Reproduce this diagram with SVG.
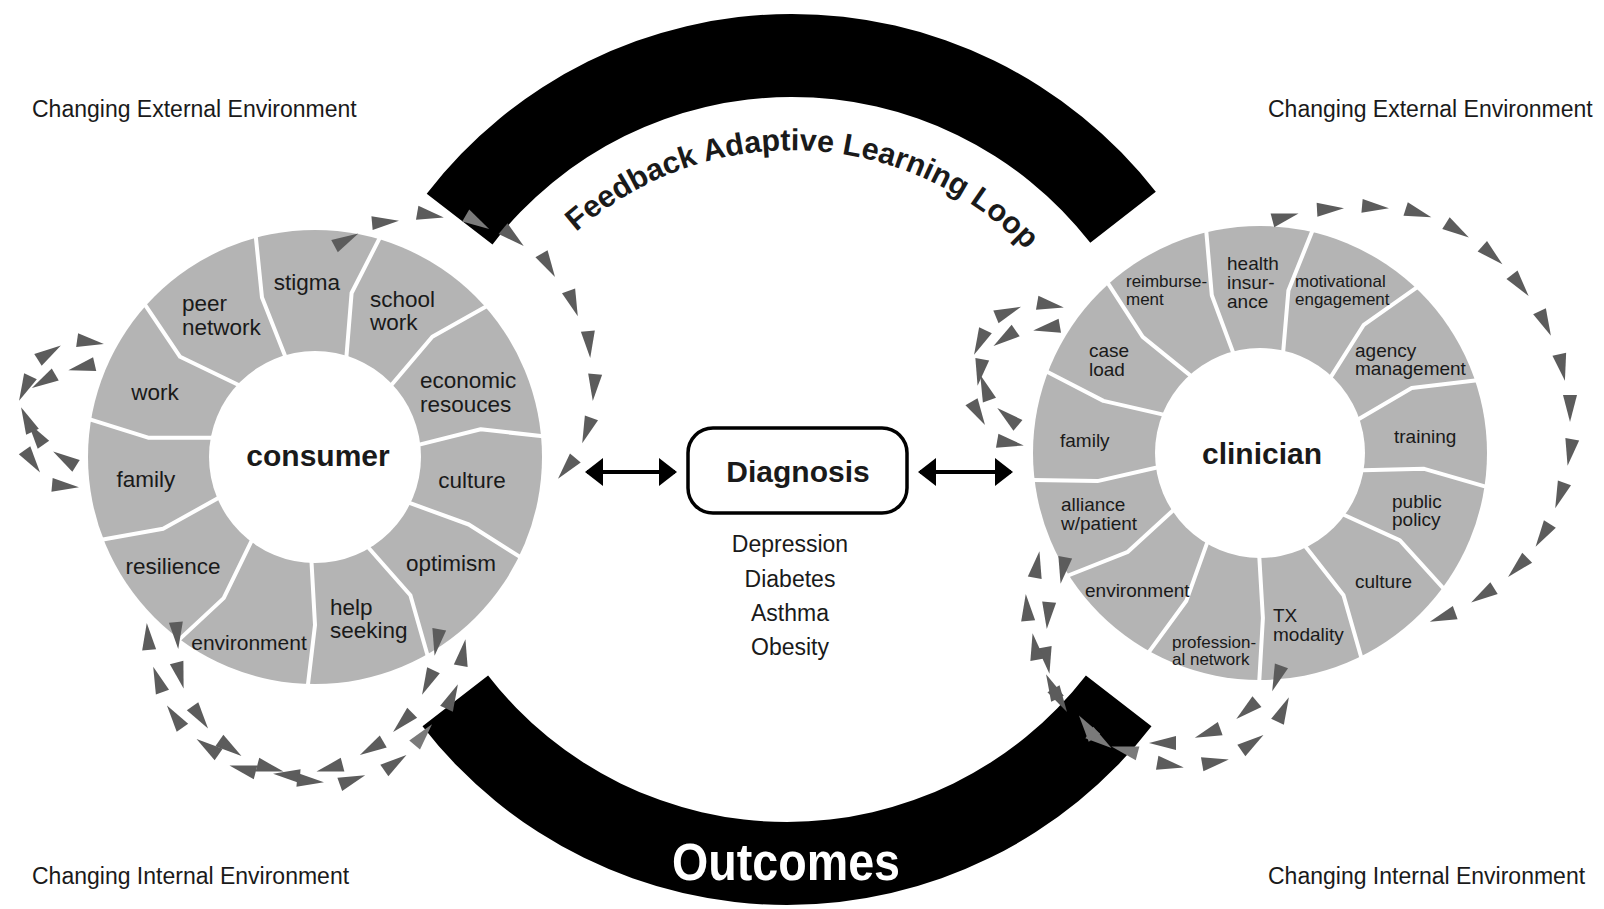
<svg xmlns="http://www.w3.org/2000/svg" xmlns:xlink="http://www.w3.org/1999/xlink" width="1604" height="909" viewBox="0 0 1604 909">
<defs>
<style>
text{font-family:"Liberation Sans",Arial,sans-serif;fill:#1a1a1a}
.ring{fill:#b4b4b4}
.hole{fill:#fff}
.dv{fill:none;stroke:#fff;stroke-width:4;stroke-linejoin:round;stroke-linecap:round}
.c{font-size:22.5px}
.k{font-size:19px}
.ks{font-size:17px}
.title{font-size:30px;font-weight:bold;text-anchor:middle}
.env{font-size:23px}
.mid{text-anchor:middle}
.band{fill:#000}
.tri{fill:#5c5c5c}
.dbl{stroke:#000;stroke-width:4;fill:none}
</style>
<path id="t" d="M14,0 L-13,-7 L-13,7 Z"/>
<marker id="ah" viewBox="0 0 18 28" markerUnits="userSpaceOnUse" markerWidth="18" markerHeight="28" refX="16" refY="14" orient="auto-start-reverse">
<path d="M0,0 L18,14 L0,28 Z" fill="#000"/>
</marker>
<path id="fbpath" d="M 551.5,256.5 A 325 325 0 0 1 1049,276.5" fill="none"/>
</defs>
<rect width="1604" height="909" fill="#fff"/>

<g id="env-labels">
<text class="env" x="32" y="117">Changing External Environment</text>
<text class="env" x="1268" y="117">Changing External Environment</text>
<text class="env" x="32" y="884">Changing Internal Environment</text>
<text class="env" x="1268" y="884">Changing Internal Environment</text>
</g>

<g id="feedback-loop">
<path class="band" d="M 426.7,193.7 A 461 461 0 0 1 1155.8,191.8 L 1090.3,242.8 A 378 378 0 0 0 492.5,244.4 Z"/>
<text style="font-size:30.5px;font-weight:bold"><textPath href="#fbpath" startOffset="50%" text-anchor="middle">Feedback Adaptive Learning Loop</textPath></text>
</g>

<g id="outcomes">
<path class="band" d="M 422.5,726.2 A 461 461 0 0 0 1151.5,726.2 L 1085.9,675.4 A 378 378 0 0 1 488.1,675.4 Z"/>
<text x="786" y="880" text-anchor="middle" style="font-size:51px;font-weight:bold;fill:#fff" textLength="228" lengthAdjust="spacingAndGlyphs">Outcomes</text>
</g>

<g id="consumer">
<circle class="ring" cx="315" cy="457" r="227"/>
<circle class="hole" cx="315" cy="457" r="106"/>
<polyline class="dv" points="255.7,235.8 262.0,297.6 285.2,356.3"/>
<polyline class="dv" points="380.0,237.4 351.6,293.0 346.4,356.8"/>
<polyline class="dv" points="487.0,305.9 432.3,336.8 391.4,385.0"/>
<polyline class="dv" points="543.1,436.3 480.7,429.3 419.3,444.6"/>
<polyline class="dv" points="520.8,557.4 468.8,524.5 409.5,502.9"/>
<polyline class="dv" points="427.8,656.3 410.4,595.3 368.3,547.5"/>
<polyline class="dv" points="307.8,685.9 315,625 311.5,561.9"/>
<polyline class="dv" points="178.1,640.6 223.7,598.1 251.7,540.7"/>
<polyline class="dv" points="101.5,539.8 163.1,528.8 218.3,498.0"/>
<polyline class="dv" points="89.1,419.2 148.1,437.7 211.8,437.7"/>
<polyline class="dv" points="144.6,304.1 180.1,356.8 238.6,385.0"/>
<text class="c" x="182" y="311">peer</text>
<text class="c" x="182" y="335">network</text>
<text class="c mid" x="307" y="290">stigma</text>
<text class="c" x="370" y="307">school</text>
<text class="c" x="370" y="330">work</text>
<text class="c" x="420" y="388">economic</text>
<text class="c" x="420" y="412">resouces</text>
<text class="c mid" x="155" y="400">work</text>
<text class="c mid" x="472" y="488">culture</text>
<text class="c mid" x="146" y="487">family</text>
<text class="c mid" x="451" y="571">optimism</text>
<text class="c mid" x="173" y="574">resilience</text>
<text class="c" x="330" y="615">help</text>
<text class="c" x="330" y="638">seeking</text>
<text class="mid" x="249" y="650" style="font-size:21px">environment</text>
<text class="title" x="318" y="466">consumer</text>
</g>

<g id="clinician">
<circle class="ring" cx="1260" cy="453" r="227"/>
<circle class="hole" cx="1260" cy="453" r="105"/>
<polyline class="dv" points="1107.4,282.3 1142.7,336.9 1190.5,375.6"/>
<polyline class="dv" points="1206.2,230.4 1211.8,295.2 1233.1,352.5"/>
<polyline class="dv" points="1312.7,230.1 1288.4,290.5 1283.2,351.6"/>
<polyline class="dv" points="1417.6,286.9 1363.8,324.8 1330.9,376.9"/>
<polyline class="dv" points="1477.2,380.3 1411.7,388.0 1358.4,419.3"/>
<polyline class="dv" points="1486.5,486.8 1424.2,468.8 1362.6,470.2"/>
<polyline class="dv" points="1444.1,589.2 1399.9,540.4 1343.7,514.7"/>
<polyline class="dv" points="1361.5,658.3 1343.5,595.3 1305.4,546.6"/>
<polyline class="dv" points="1259.2,682 1262.9,618 1259.3,557"/>
<polyline class="dv" points="1148.3,652.9 1186.4,600.7 1207.2,542.6"/>
<polyline class="dv" points="1066.9,576.0 1127.9,551.8 1173.2,510.3"/>
<polyline class="dv" points="1032.6,480.1 1097.4,481.1 1157.0,467.5"/>
<polyline class="dv" points="1046.1,371.3 1103.4,400.9 1163.4,414.6"/>
<text class="ks" x="1126" y="287">reimburse-</text>
<text class="ks" x="1126" y="305">ment</text>
<text class="k" x="1227" y="270">health</text>
<text class="k" x="1227" y="289">insur-</text>
<text class="k" x="1227" y="308">ance</text>
<text class="ks" x="1295" y="287">motivational</text>
<text class="ks" x="1295" y="305">engagement</text>
<text class="k" x="1355" y="357">agency</text>
<text class="k" x="1355" y="375">management</text>
<text class="k" x="1089" y="357">case</text>
<text class="k" x="1089" y="376">load</text>
<text class="k" x="1394" y="443">training</text>
<text class="k" x="1060" y="447">family</text>
<text class="k" x="1392" y="508">public</text>
<text class="k" x="1392" y="526">policy</text>
<text class="k" x="1061" y="511">alliance</text>
<text class="k" x="1061" y="530">w/patient</text>
<text class="k" x="1355" y="588">culture</text>
<text class="k" x="1085" y="597">environment</text>
<text class="k" x="1273" y="622">TX</text>
<text class="k" x="1273" y="641">modality</text>
<text class="ks" x="1172" y="648">profession-</text>
<text class="ks" x="1172" y="665">al network</text>
<text class="title" x="1262" y="464">clinician</text>
</g>

<g id="diagnosis">
<rect x="688" y="428" width="219" height="85" rx="25" fill="#fff" stroke="#000" stroke-width="3.5"/>
<text class="title" x="798" y="482">Diagnosis</text>
<text class="mid" x="790" y="552" style="font-size:23px">Depression</text>
<text class="mid" x="790" y="587" style="font-size:23px">Diabetes</text>
<text class="mid" x="790" y="621" style="font-size:23px">Asthma</text>
<text class="mid" x="790" y="655" style="font-size:23px">Obesity</text>
</g>

<g id="connectors">
<line class="dbl" x1="587" y1="472" x2="675" y2="472" marker-start="url(#ah)" marker-end="url(#ah)"/>
<line class="dbl" x1="920" y1="472" x2="1011" y2="472" marker-start="url(#ah)" marker-end="url(#ah)"/>
<g class="tri">
<!-- consumer left loop -->
<use href="#t" transform="translate(90,342) rotate(8)"/>
<use href="#t" transform="translate(49,353) rotate(-32)"/>
<use href="#t" transform="translate(82,367) rotate(167)"/>
<use href="#t" transform="translate(25,388) rotate(115)"/>
<use href="#t" transform="translate(44,381) rotate(150)"/>
<use href="#t" transform="translate(27,420) rotate(-115)"/>
<use href="#t" transform="translate(36,434) rotate(-125)"/>
<use href="#t" transform="translate(32,461) rotate(55)"/>
<use href="#t" transform="translate(65,459) rotate(-148)"/>
<use href="#t" transform="translate(65,486) rotate(5)"/>
<!-- consumer top-right chain -->
<use href="#t" transform="translate(346,240) rotate(-28)"/>
<use href="#t" transform="translate(385,222) rotate(-5)"/>
<use href="#t" transform="translate(430,215) rotate(10)"/>
<use href="#t" transform="translate(477,222) rotate(30)" style="fill:#7a7a7a"/>
<use href="#t" transform="translate(513,237) rotate(40)"/>
<use href="#t" transform="translate(548,265) rotate(60)"/>
<use href="#t" transform="translate(573,303) rotate(70)"/>
<use href="#t" transform="translate(589,344) rotate(85)"/>
<use href="#t" transform="translate(594,387) rotate(95)"/>
<use href="#t" transform="translate(587,430) rotate(110)"/>
<use href="#t" transform="translate(567,468) rotate(130)"/>
<!-- consumer bottom loop -->
<use href="#t" transform="translate(177,635) rotate(85)"/>
<use href="#t" transform="translate(180,675) rotate(75)"/>
<use href="#t" transform="translate(200,717) rotate(55)"/>
<use href="#t" transform="translate(230,748) rotate(35)"/>
<use href="#t" transform="translate(148,637) rotate(-95)"/>
<use href="#t" transform="translate(158,680) rotate(-110)"/>
<use href="#t" transform="translate(175,717) rotate(-125)"/>
<use href="#t" transform="translate(208,747) rotate(-145)"/>
<use href="#t" transform="translate(243,769) rotate(195)"/>
<use href="#t" transform="translate(270,768) rotate(15)"/>
<use href="#t" transform="translate(287,775) rotate(185)"/>
<use href="#t" transform="translate(310,781) rotate(5)"/>
<use href="#t" transform="translate(437,642) rotate(100)"/>
<use href="#t" transform="translate(428,682) rotate(115)"/>
<use href="#t" transform="translate(403,722) rotate(135)"/>
<use href="#t" transform="translate(372,748) rotate(150)"/>
<use href="#t" transform="translate(330,768) rotate(165)"/>
<use href="#t" transform="translate(463,653) rotate(-80)"/>
<use href="#t" transform="translate(452,697) rotate(-65)"/>
<use href="#t" transform="translate(423,735) rotate(-50)" style="fill:#7a7a7a"/>
<use href="#t" transform="translate(395,763) rotate(-35)"/>
<use href="#t" transform="translate(352,780) rotate(-20)"/>
<!-- clinician left loop -->
<use href="#t" transform="translate(1050,305) rotate(10)"/>
<use href="#t" transform="translate(1008,312) rotate(-22)"/>
<use href="#t" transform="translate(1047,328) rotate(170)"/>
<use href="#t" transform="translate(980,342) rotate(115)"/>
<use href="#t" transform="translate(1005,338) rotate(145)"/>
<use href="#t" transform="translate(980,372) rotate(100)"/>
<use href="#t" transform="translate(985,388) rotate(-110)"/>
<use href="#t" transform="translate(978,413) rotate(60)"/>
<use href="#t" transform="translate(1008,417) rotate(-140)"/>
<use href="#t" transform="translate(1010,443) rotate(10)"/>
<!-- clinician bottom loop -->
<use href="#t" transform="translate(1063,570) rotate(100)"/>
<use href="#t" transform="translate(1048,615) rotate(95)"/>
<use href="#t" transform="translate(1047,660) rotate(80)"/>
<use href="#t" transform="translate(1060,700) rotate(60)"/>
<use href="#t" transform="translate(1100,740) rotate(35)" style="fill:#7a7a7a"/>
<use href="#t" transform="translate(1037,565) rotate(-80)"/>
<use href="#t" transform="translate(1027,608) rotate(-95)"/>
<use href="#t" transform="translate(1035,647) rotate(-100)"/>
<use href="#t" transform="translate(1052,687) rotate(-115)"/>
<use href="#t" transform="translate(1087,727) rotate(-125)" style="fill:#7a7a7a"/>
<use href="#t" transform="translate(1125,750) rotate(195)" style="fill:#7a7a7a"/>
<use href="#t" transform="translate(1163,743) rotate(180)"/>
<use href="#t" transform="translate(1170,765) rotate(10)"/>
<use href="#t" transform="translate(1208,733) rotate(160)"/>
<use href="#t" transform="translate(1215,762) rotate(-10)"/>
<use href="#t" transform="translate(1277,678) rotate(110)"/>
<use href="#t" transform="translate(1247,710) rotate(140)"/>
<use href="#t" transform="translate(1283,710) rotate(-65)"/>
<use href="#t" transform="translate(1252,743) rotate(-35)"/>
<!-- clinician right loop -->
<use href="#t" transform="translate(1285,217) rotate(-15)"/>
<use href="#t" transform="translate(1330,209) rotate(-3)"/>
<use href="#t" transform="translate(1375,207) rotate(5)"/>
<use href="#t" transform="translate(1418,213) rotate(18)"/>
<use href="#t" transform="translate(1457,230) rotate(32)"/>
<use href="#t" transform="translate(1492,255) rotate(42)"/>
<use href="#t" transform="translate(1520,285) rotate(52)"/>
<use href="#t" transform="translate(1545,323) rotate(65)"/>
<use href="#t" transform="translate(1562,367) rotate(78)"/>
<use href="#t" transform="translate(1570,408) rotate(90)"/>
<use href="#t" transform="translate(1570,452) rotate(100)"/>
<use href="#t" transform="translate(1560,495) rotate(110)"/>
<use href="#t" transform="translate(1543,535) rotate(122)"/>
<use href="#t" transform="translate(1518,567) rotate(135)"/>
<use href="#t" transform="translate(1483,595) rotate(148)"/>
<use href="#t" transform="translate(1443,617) rotate(160)"/>
</g>
</g>
</svg>
